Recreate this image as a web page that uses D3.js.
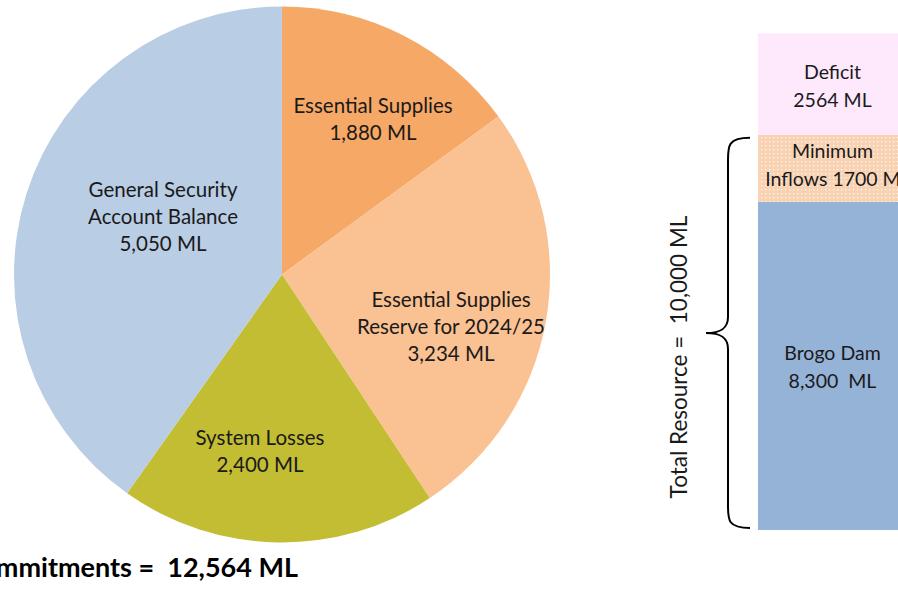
<!DOCTYPE html>
<html><head><meta charset="utf-8">
<script src="https://cdn.jsdelivr.net/npm/d3@7"></script>
<style>body{margin:0;background:#fff;} svg{display:block;font-family:Lato,"Open Sans",sans-serif;} text{white-space:pre;}</style>
</head><body><div id="chart"></div>
<script>
// Pie data (clockwise from 12 o'clock)
const pieCategories = ["Essential Supplies", "Essential Supplies Reserve for 2024/25", "System Losses", "General Security Account Balance"];
const pieValues = [1880, 3234, 2400, 5050];
const pieLabelLines = [
  ["Essential Supplies", "1,880 ML"],
  ["Essential Supplies", "Reserve for 2024/25", "3,234 ML"],
  ["System Losses", "2,400 ML"],
  ["General Security", "Account Balance", "5,050 ML"]
];
const pieColors = ["#F6A866", "#FAC192", "#C3BD33", "#B9CDE4"];
const totalLabel = "Total Commitments =  12,564 ML";

// Stacked resource bar (bottom to top)
const barCategories = ["Brogo Dam", "Minimum Inflows", "Deficit"];
const barValues = [8300, 1700, 2564];
const barLabelLines = [["Brogo Dam", "8,300  ML"], ["Minimum", "Inflows 1700 ML"], ["Deficit", "2564 ML"]];
const resourceLabel = "Total Resource =  10,000 ML";

const W = 898, H = 595;
const svg = d3.select("#chart").append("svg").attr("width", W).attr("height", H);
const defs = svg.append("defs");
const pat = defs.append("pattern").attr("id", "hatch").attr("patternUnits", "userSpaceOnUse")
  .attr("width", 4).attr("height", 4);
pat.append("rect").attr("width", 4).attr("height", 4).attr("fill", "#F9D2B3");
pat.append("rect").attr("x", 1).attr("y", 1).attr("width", 1.3).attr("height", 1.3).attr("fill", "#FFF6F0");

// ---- Pie ----
const cx = 282, cy = 274.5, R = 268;
const pie = d3.pie().sort(null).value(d => d)(pieValues);
const arc = d3.arc().innerRadius(0).outerRadius(R);
const g = svg.append("g").attr("transform", `translate(${cx},${cy})`);
g.selectAll("path").data(pie).join("path").attr("d", arc).attr("fill", (d, i) => pieColors[i]);

const labelPos = [[373, 113], [451, 307], [260, 445], [163, 197]]; // first-line baselines
const lineH = 27;
pieLabelLines.forEach((lines, i) => {
  const t = svg.append("text").attr("text-anchor", "middle").attr("font-size", 20.5).attr("fill", "#1a1a1a");
  lines.forEach((s, j) => t.append("tspan").attr("x", labelPos[i][0]).attr("y", labelPos[i][1] + j * lineH).text(s));
});

svg.append("text").attr("x", 298).attr("y", 577).attr("text-anchor", "end")
  .attr("font-size", 27).attr("font-weight", "bold").attr("fill", "#000").text(totalLabel);

// ---- Stacked bar ----
const barX = 758, barW = 145;
const barFills = ["#95B3D7", "url(#hatch)", "#FDE8FC"];
let cum = 0;
const stacks = barValues.map(v => { const s = { y0: cum, y1: cum + v }; cum += v; return s; });
const yS = d3.scaleLinear().domain([0, 8300]).range([530, 202]);
svg.selectAll("rect.bar").data(stacks).join("rect").attr("class", "bar")
  .attr("x", barX).attr("width", barW)
  .attr("y", d => yS(d.y1)).attr("height", d => yS(d.y0) - yS(d.y1))
  .attr("fill", (d, i) => barFills[i]);

const barTextY = [360, 158, 79];
barLabelLines.forEach((lines, i) => {
  const t = svg.append("text").attr("text-anchor", "middle").attr("font-size", 19.5).attr("fill", "#1a1a1a");
  lines.forEach((s, j) => t.append("tspan").attr("x", i === 1 && j === 1 ? 838 : 832.5).attr("y", barTextY[i] + j * 27.5).text(s));
});

// ---- Brace ----
const bTop = yS(10000) + 3, bBot = yS(0) - 2, mid = 333, xv = 728, xe = 750, xt = 706;
const brace = `M${xe},${bTop} C${xv},${bTop} ${xv},${bTop + 8} ${xv},${bTop + 22} L${xv},${mid - 16} C${xv},${mid - 4} ${xv - 8},${mid} ${xt},${mid}
 C${xv - 8},${mid} ${xv},${mid + 4} ${xv},${mid + 16} L${xv},${bBot - 22} C${xv},${bBot - 8} ${xv},${bBot} ${xe},${bBot}`;
svg.append("path").attr("d", brace).attr("fill", "none").attr("stroke", "#000").attr("stroke-width", 2);

svg.append("text").attr("transform", `translate(687,357) rotate(-90)`).attr("text-anchor", "middle")
  .attr("font-size", 22.5).attr("fill", "#1a1a1a").text(resourceLabel);
</script></body></html>
